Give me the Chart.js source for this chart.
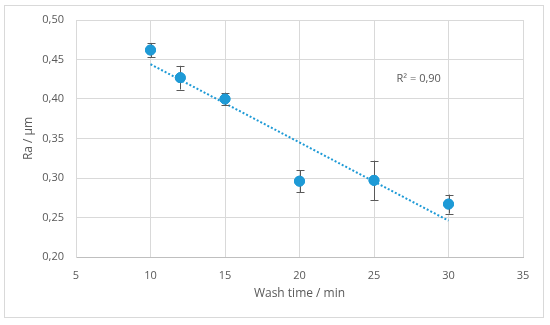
<!DOCTYPE html>
<html>
<head>
<meta charset="utf-8">
<script src="https://cdn.jsdelivr.net/npm/chart.js@4.4.1/dist/chart.umd.min.js"></script>
<style>
  html, body { margin: 0; padding: 0; background: #fff; }
  #wrap { position: relative; width: 550px; height: 325px; }
  #frame { position: absolute; left: 4px; top: 5px; width: 540px; height: 313px; border: 1px solid #d9d9d9; box-sizing: border-box; pointer-events: none; }
</style>
</head>
<body>
<div id="wrap">
  <canvas id="c" width="550" height="325"></canvas>
  <div id="frame"></div>
</div>
<script>
// ── Data ──────────────────────────────────────────────────────────────────
const washTime = [10, 12, 15, 20, 25, 30];
const ra       = [0.462, 0.427, 0.400, 0.296, 0.297, 0.267];
const raErr    = [0.009, 0.015, 0.008, 0.014, 0.025, 0.012];
const trendX   = [10, 30];
const trendY   = [0.444, 0.246];
const r2Label  = 'R² = 0,90';

const BLUE = '#1e9ad6';
const GREY = '#595959';
const GRID = '#d9d9d9';
const FONT = '"Open Sans", sans-serif';

const comma = v => v.toFixed(2).replace('.', ',');

// ── Error bars + R² label, drawn through the scales ───────────────────────
const extras = {
  id: 'extras',
  afterDatasetsDraw(chart) {
    const { ctx, scales: { x, y } } = chart;
    ctx.save();
    ctx.strokeStyle = GREY;
    ctx.lineWidth = 1;
    washTime.forEach((t, i) => {
      const px = Math.round(x.getPixelForValue(t)) + 0.5;
      const top = y.getPixelForValue(ra[i] + raErr[i]);
      const bot = y.getPixelForValue(ra[i] - raErr[i]);
      ctx.beginPath();
      ctx.moveTo(px, top); ctx.lineTo(px, bot);
      ctx.moveTo(px - 4, Math.round(top) + 0.5); ctx.lineTo(px + 4, Math.round(top) + 0.5);
      ctx.moveTo(px - 4, Math.round(bot) + 0.5); ctx.lineTo(px + 4, Math.round(bot) + 0.5);
      ctx.stroke();
    });
    // markers sit on top of the bars
    chart.getDatasetMeta(1).data.forEach(p => p.draw(ctx));
    ctx.fillStyle = GREY;
    ctx.font = '11px ' + FONT;
    ctx.textAlign = 'center';
    ctx.textBaseline = 'middle';
    ctx.fillText(r2Label, x.getPixelForValue(28), y.getPixelForValue(0.425));
    ctx.restore();
  }
};

new Chart(document.getElementById('c'), {
  type: 'scatter',
  data: {
    datasets: [
      {
        label: 'trend',
        data: trendX.map((t, i) => ({ x: t, y: trendY[i] })),
        showLine: true,
        borderColor: BLUE,
        borderWidth: 2,
        borderDash: [2, 2],
        pointRadius: 0,
        fill: false,
      },
      {
        label: 'Ra',
        data: washTime.map((t, i) => ({ x: t, y: ra[i] })),
        backgroundColor: BLUE,
        borderColor: BLUE,
        pointRadius: 5,
        pointHoverRadius: 5,
      },
    ],
  },
  options: {
    responsive: false,
    animation: false,
    layout: { padding: { left: 0, right: 27, top: 20, bottom: 0 } },
    plugins: { legend: { display: false }, tooltip: { enabled: false } },
    scales: {
      x: {
        type: 'linear',
        min: 5, max: 35,
        afterFit: s => { s.height = 68; },
        ticks: { stepSize: 5, color: GREY, font: { family: FONT, size: 11 }, padding: 12 },
        grid: { color: GRID, drawTicks: false },
        border: { color: '#bfbfbf' },
        title: { display: true, text: 'Wash time / min', color: GREY, font: { family: FONT, size: 12 }, padding: { top: 0, bottom: 24 } },
      },
      y: {
        min: 0.2, max: 0.5,
        afterFit: s => { s.width = 76; },
        ticks: { stepSize: 0.05, color: GREY, font: { family: FONT, size: 11 }, padding: 12, callback: v => comma(v) },
        grid: { color: GRID, drawTicks: false },
        border: { color: GRID },
        title: { display: true, text: 'Ra / µm', color: GREY, font: { family: FONT, size: 12 }, padding: { top: 21, bottom: 0 } },
      },
    },
  },
  plugins: [extras],
});
</script>
</body>
</html>
